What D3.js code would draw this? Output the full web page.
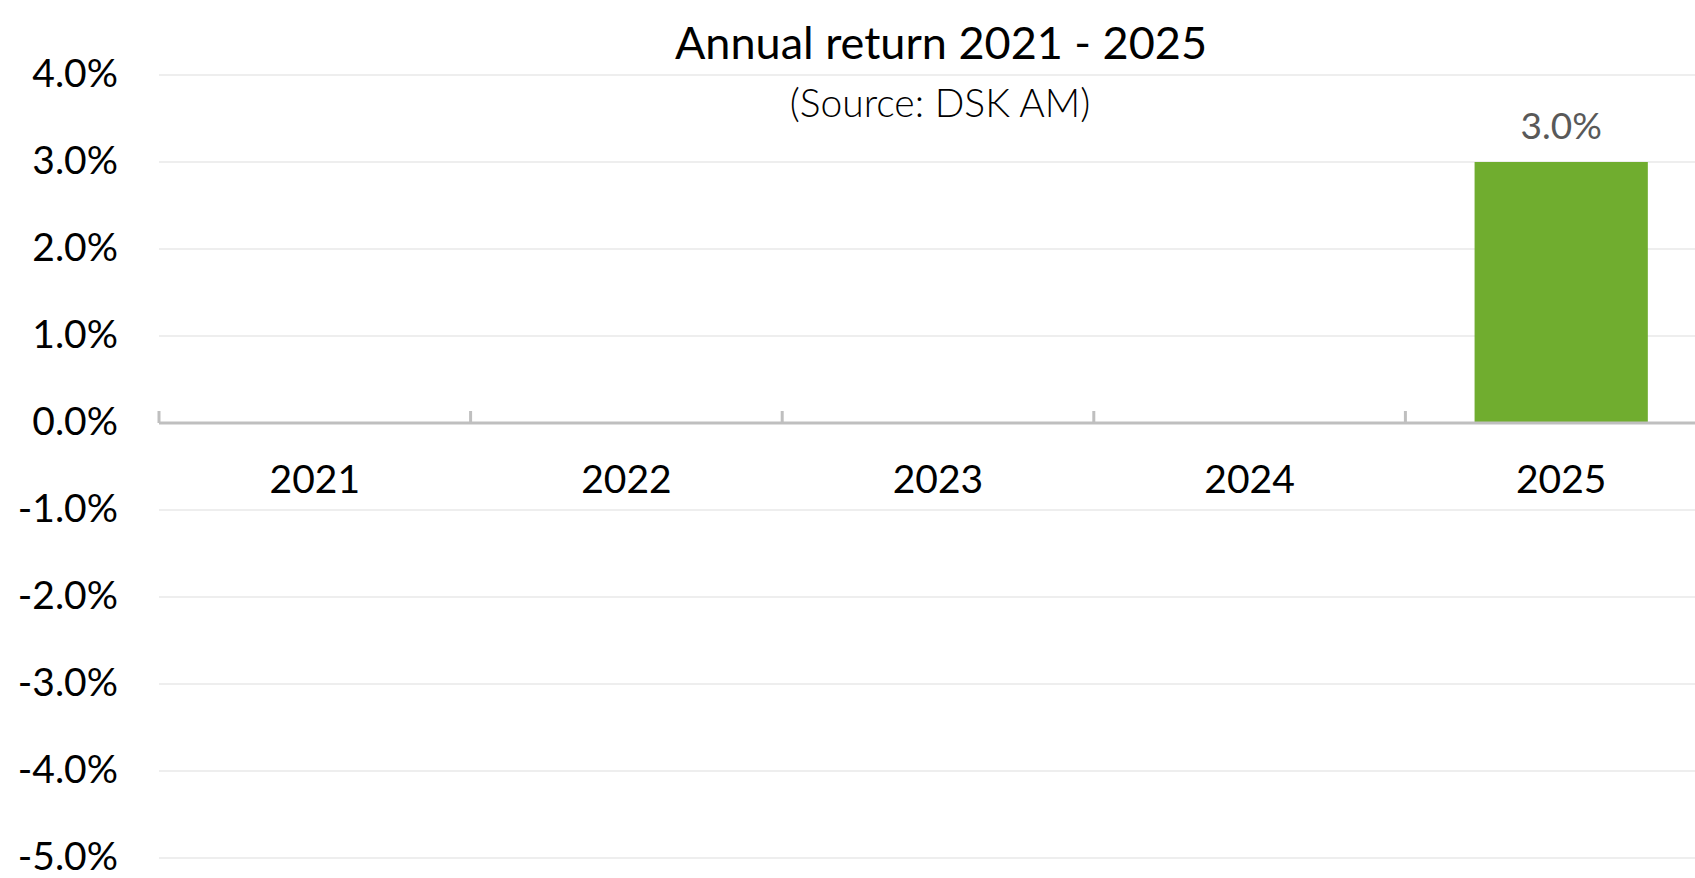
<!DOCTYPE html>
<html>
<head>
<meta charset="utf-8">
<script src="https://cdn.jsdelivr.net/npm/d3@7"></script>
<style>
    body { margin: 0; background: #fff; overflow: hidden; }
    svg { display: block; font-family: Lato, "Open Sans", sans-serif; }
</style>
</head>
<body>
<svg id="chart" width="1695" height="878"></svg>
<script>
// Chart data
const years = ['2021', '2022', '2023', '2024', '2025'];
const returns = [null, null, null, null, 3.0];
const yTicks = [4, 3, 2, 1, 0, -1, -2, -3, -4, -5];

const title = 'Annual return 2021 - 2025';
const subtitle = '(Source: DSK AM)';

const width = 1695;
const height = 878;
// plot area runs a little past the right edge, as in the original export
const margin = { left: 159, right: 1717, top: 75, bottom: 858 };

// plain hyphen for negatives, like the original
const pct = d3.formatLocale({ decimal: '.', thousands: ',', grouping: [3], currency: ['', ''], minus: '-' }).format('.1f');

const svg = d3.select('#chart');

const x = d3.scaleBand()
    .domain(years)
    .range([margin.left, margin.right])
    .paddingInner(0.444)
    .paddingOuter(0.222);

// band edges for the category tick marks
const xEdge = d3.scaleBand()
    .domain(years)
    .range([margin.left, margin.right]);

const y = d3.scaleLinear()
    .domain([-5, 4])
    .range([margin.bottom, margin.top]);

// Gridlines
svg.append('g')
    .selectAll('line')
    .data(yTicks.filter(d => d !== 0))
    .enter().append('line')
    .attr('x1', margin.left)
    .attr('x2', margin.right)
    .attr('y1', d => y(d))
    .attr('y2', d => y(d))
    .attr('stroke', '#eeeeee')
    .attr('stroke-width', 2);

// Y axis labels
const yAxis = d3.axisLeft(y)
    .tickValues(yTicks)
    .tickSize(0)
    .tickPadding(0)
    .tickFormat(d => pct(d) + '%');

svg.append('g')
    .attr('transform', `translate(${118},0)`)
    .call(yAxis)
    .call(g => g.select('.domain').remove())
    .selectAll('text')
    .attr('font-family', 'Lato, sans-serif')
    .attr('font-size', 39)
    .attr('fill', '#000')
    .attr('dy', '0.29em');

// Bars
const barData = years.map((yr, i) => ({ year: yr, value: returns[i] })).filter(d => d.value !== null);

svg.append('g')
    .selectAll('rect')
    .data(barData)
    .enter().append('rect')
    .attr('x', d => x(d.year))
    .attr('width', x.bandwidth())
    .attr('y', d => y(Math.max(0, d.value)))
    .attr('height', d => Math.abs(y(d.value) - y(0)))
    .attr('fill', '#70ad2f');

// Data labels
svg.append('g')
    .selectAll('text')
    .data(barData)
    .enter().append('text')
    .attr('x', d => x(d.year) + x.bandwidth() / 2)
    .attr('y', d => y(d.value) - 23)
    .attr('text-anchor', 'middle')
    .attr('font-size', 37)
    .attr('fill', '#595959')
    .text(d => pct(d.value) + '%');

// Category axis at zero
const xAxis = svg.append('g');
xAxis.append('line')
    .attr('x1', margin.left)
    .attr('x2', margin.right)
    .attr('y1', y(0))
    .attr('y2', y(0))
    .attr('stroke', '#bfbfbf')
    .attr('stroke-width', 3);

xAxis.selectAll('.tick-mark')
    .data(years.concat(['end']))
    .enter().append('line')
    .attr('class', 'tick-mark')
    .attr('x1', (d, i) => margin.left + i * xEdge.bandwidth())
    .attr('x2', (d, i) => margin.left + i * xEdge.bandwidth())
    .attr('y1', y(0))
    .attr('y2', y(0) - 12)
    .attr('stroke', '#bfbfbf')
    .attr('stroke-width', 3);

xAxis.selectAll('.cat-label')
    .data(years)
    .enter().append('text')
    .attr('class', 'cat-label')
    .attr('x', d => x(d) + x.bandwidth() / 2)
    .attr('y', y(0) + 70)
    .attr('text-anchor', 'middle')
    .attr('font-size', 39)
    .attr('fill', '#000')
    .text(d => d);

// Titles
svg.append('text')
    .attr('x', 941)
    .attr('y', 59)
    .attr('text-anchor', 'middle')
    .attr('font-size', 45)
    .attr('fill', '#000')
    .text(title);

svg.append('text')
    .attr('x', 940)
    .attr('y', 117)
    .attr('text-anchor', 'middle')
    .attr('font-size', 39)
    .attr('font-weight', 300)
    .attr('fill', '#000')
    .text(subtitle);
</script>
</body>
</html>
